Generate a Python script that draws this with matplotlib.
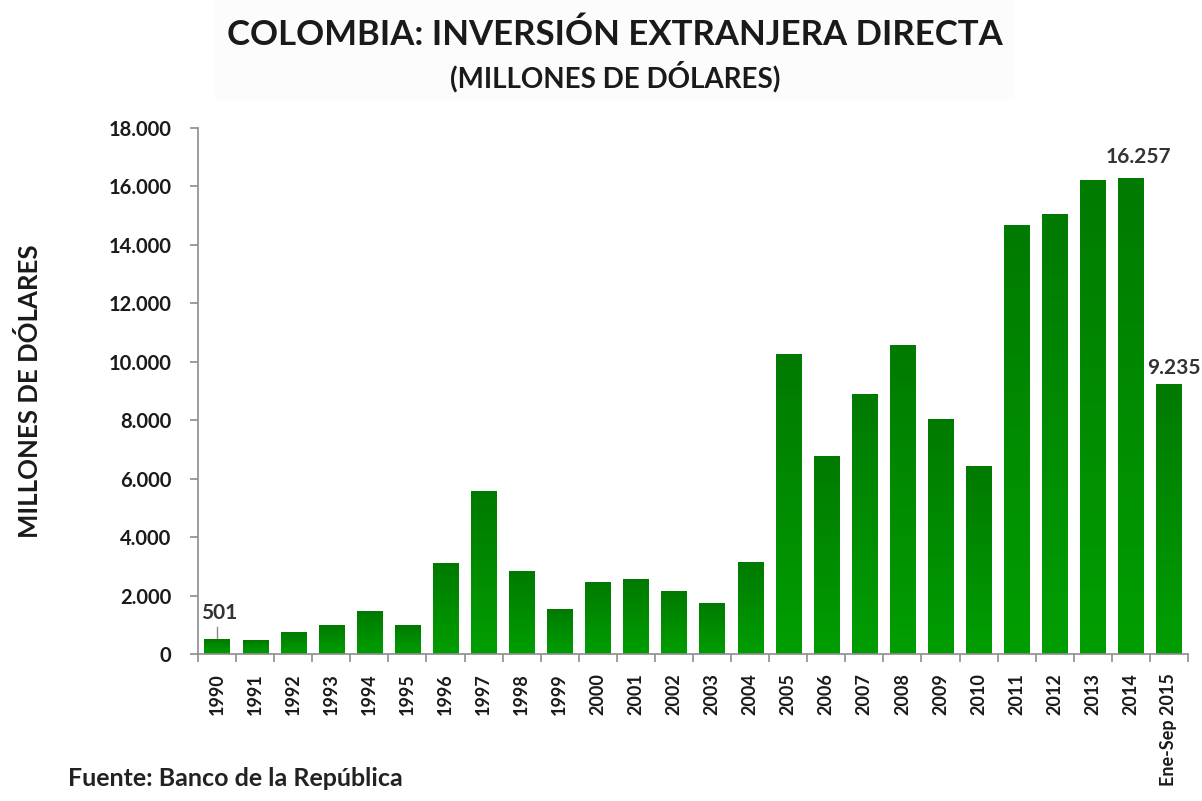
import numpy as np
import matplotlib
matplotlib.use("Agg")
import matplotlib.pyplot as plt
from matplotlib.colors import LinearSegmentedColormap
from matplotlib.patches import Rectangle
from matplotlib.ticker import FixedLocator, FuncFormatter

# Inversión extranjera directa en Colombia (millones de dólares)
years = ["1990", "1991", "1992", "1993", "1994", "1995", "1996", "1997", "1998",
         "1999", "2000", "2001", "2002", "2003", "2004", "2005", "2006", "2007",
         "2008", "2009", "2010", "2011", "2012", "2013", "2014", "Ene-Sep 2015"]
ied = [501, 457, 729, 959, 1446, 968, 3112, 5562, 2829, 1508, 2436, 2542, 2134,
       1720, 3116, 10252, 6750, 8886, 10564, 8035, 6430, 14648, 15039, 16209,
       16257, 9235]
y_ticks = [0, 2000, 4000, 6000, 8000, 10000, 12000, 14000, 16000, 18000]

FONT = ["Lato", "DejaVu Sans"]
plt.rcParams["font.family"] = FONT
TXT = "#1a1a1a"


def miles(v):
    return f"{int(v):,}".replace(",", ".")


fig = plt.figure(figsize=(12.02, 8.01), dpi=100)
fig.patch.set_facecolor("white")

# faint panel behind the title
fig.patches.append(Rectangle((215 / 1202, 1 - 100 / 801), 800 / 1202, 100 / 801,
                             transform=fig.transFigure, facecolor="#fcfcfc",
                             edgecolor="none", zorder=0))

ax = fig.add_axes([198 / 1202, 1 - 654 / 801, 990 / 1202, 526 / 801])
ax.set_facecolor("none")

x = np.arange(len(years))
w = 0.66
bars = ax.bar(x, ied, width=w, color="none", edgecolor="none", zorder=2)

# vertical green gradient inside every bar
cmap = LinearSegmentedColormap.from_list("verde", ["#009e00", "#007a00"])
grad = np.linspace(0, 1, 256).reshape(-1, 1)
for b in bars:
    x0, h = b.get_x(), b.get_height()
    ax.imshow(grad, extent=[x0, x0 + b.get_width(), 0, h], origin="lower",
              aspect="auto", cmap=cmap, zorder=2, interpolation="bicubic")

ax.set_xlim(-0.5, len(years) - 0.5)
ax.set_ylim(0, 18000)

for s in ["top", "right"]:
    ax.spines[s].set_visible(False)
for s in ["left", "bottom"]:
    ax.spines[s].set_color("#8c8c8c")
    ax.spines[s].set_linewidth(1.2)

ax.yaxis.set_major_locator(FixedLocator(y_ticks))
ax.yaxis.set_major_formatter(FuncFormatter(lambda v, p: miles(v)))
ax.tick_params(axis="y", direction="out", length=6, width=1.2, color="#8c8c8c",
               labelsize=14.5, labelcolor=TXT, pad=13)
for t in ax.get_yticklabels():
    t.set_fontweight("bold")

ax.set_xticks(x)
ax.set_xticklabels(years, rotation=90, fontsize=13, fontweight="bold", color=TXT)
ax.xaxis.set_minor_locator(FixedLocator(np.arange(-0.5, len(years), 1.0)))
ax.tick_params(axis="x", which="major", length=0, pad=14)
ax.tick_params(axis="x", which="minor", direction="out", length=6, width=1.2,
               color="#8c8c8c")

ax.set_ylabel("MILLONES DE DÓLARES", fontsize=18.5, fontweight="bold", color=TXT)
ax.yaxis.set_label_coords(-0.158, 0.5)

# value labels
ax.plot([0, 0], [ied[0], ied[0] + 420], color="#8c8c8c", lw=1, zorder=1)
ax.text(0.05, ied[0] + 560, miles(ied[0]), ha="center", va="bottom",
        fontsize=15, fontweight="bold", color="#333333")
ax.text(24.2, ied[24] + 420, miles(ied[24]), ha="center",
        va="bottom", fontsize=15, fontweight="bold", color="#333333")
ax.text(24.42, ied[25] + 220, miles(ied[25]), ha="left",
        va="bottom", fontsize=15, fontweight="bold", color="#333333", clip_on=False)

fig.text(615 / 1202, 1 - 35 / 801, "COLOMBIA: INVERSIÓN EXTRANJERA DIRECTA",
         ha="center", va="center", fontsize=25, fontweight="bold", color=TXT)
fig.text(615 / 1202, 1 - 77 / 801, "(MILLONES DE DÓLARES)",
         ha="center", va="center", fontsize=20, fontweight="bold", color=TXT)
fig.text(68 / 1202, 1 - 778 / 801, "Fuente: Banco de la República",
         ha="left", va="center", fontsize=18, fontweight="bold", color="#222222")

fig.savefig("out.png", dpi=100, facecolor="white")
